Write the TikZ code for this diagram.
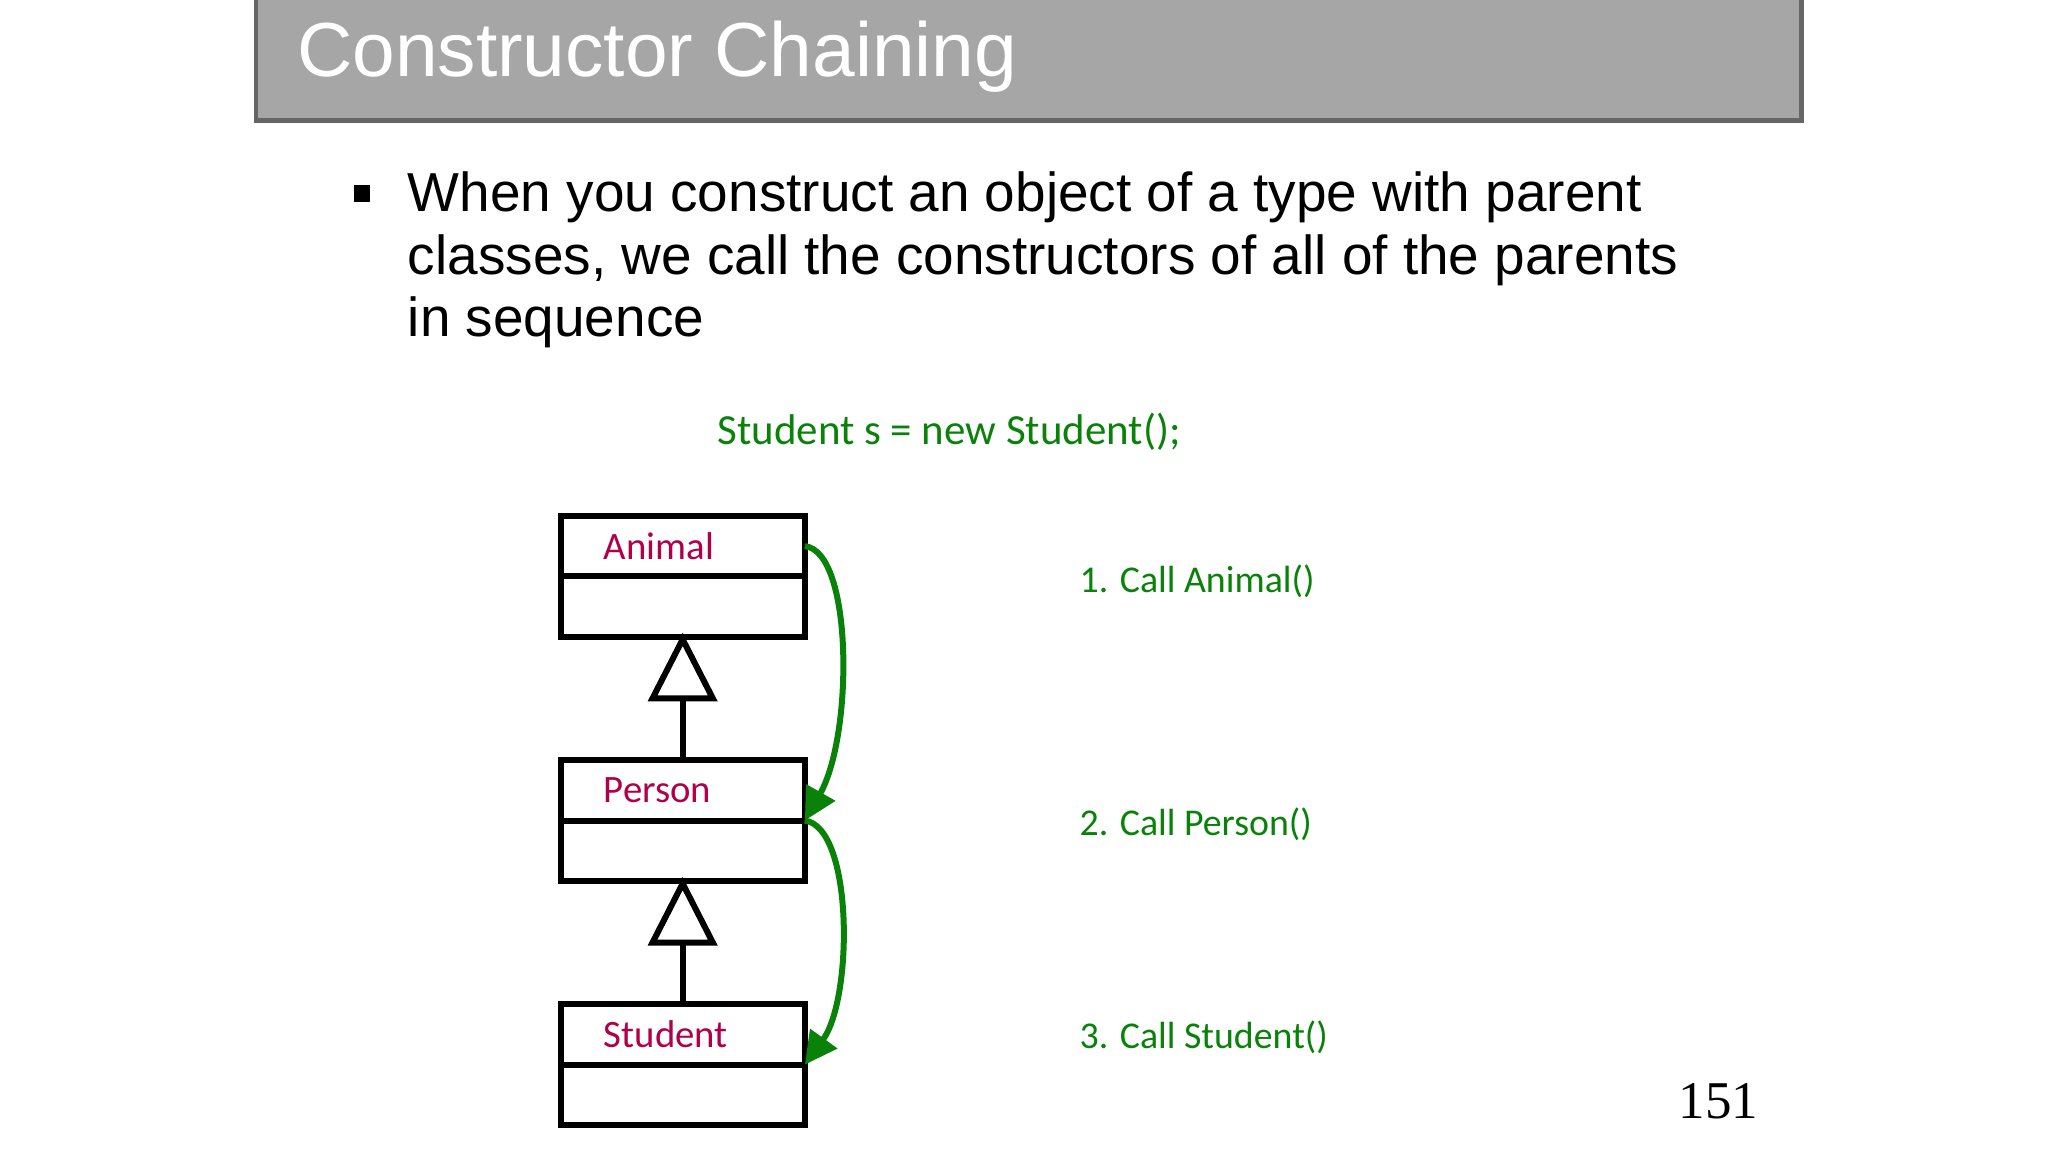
\documentclass[tikz,border=0pt]{standalone}
\usepackage{fontspec}
\setmainfont{Liberation Sans}
\newfontfamily\calfont{Carlito}
\newfontfamily\serfont{Liberation Serif}
\usetikzlibrary{positioning,arrows.meta}
\definecolor{titlegray}{HTML}{A6A6A6}
\definecolor{codegreen}{HTML}{0A820A}
\definecolor{classred}{HTML}{B0004A}
\tikzset{
  classhead/.style={draw, line width=1.3pt, minimum width=1.86cm, minimum height=0.46cm,
    inner sep=0pt, outer sep=0pt, font=\calfont\fontsize{8.4}{10}\selectfont, text=classred},
  classbody/.style={draw, line width=1.3pt, minimum width=1.86cm, minimum height=0.46cm, inner sep=0pt, outer sep=0pt},
  steplabel/.style={font=\calfont\fontsize{8.2}{10}\selectfont, text=codegreen, anchor=west},
  callarrow/.style={draw=codegreen, line width=1.3pt, -{Triangle[length=7pt,width=7pt]}},
}
\begin{document}
\begin{tikzpicture}[x=0.01cm,y=-0.01cm]
  \useasboundingbox (0,0) rectangle (1560,878);
  % title bar
  \fill[titlegray] (195,0) rectangle (1372,92);
  \draw[gray!80!black, line width=1pt] (195,0) -- (195,92) -- (1372,92) -- (1372,0);
  \node[anchor=west, text=white, font=\fontsize{16.6}{19}\selectfont] (title) at (214,43) {Constructor Chaining};
  % bullet
  \fill (270,141) rectangle (282,154);
  \node[anchor=north west, align=left, inner sep=0pt, font=\fontsize{11.9}{13.6}\selectfont] (bullet) at (310,130)
    {When you construct an object of a type with parent\\classes, we call the constructors of all of the parents\\in sequence};
  \node[font=\calfont\fontsize{9.3}{12}\selectfont, text=codegreen] (code) at (723,329) {Student s = new Student();};
  % classes
  \node[classhead, text width=1.2cm] (animal) at (520,416) {Animal};
  \node[classbody, below=0pt of animal] (animalbody) {};
  \node[classhead, text width=1.2cm] (person) at (520,602) {Person};
  \node[classbody, below=0pt of person] (personbody) {};
  \node[classhead, text width=1.2cm] (student) at (520,788) {Student};
  \node[classbody, below=0pt of student] (studentbody) {};
  % inheritance
  \draw[line width=1.3pt, fill=white] (animalbody.south) ++(0,2) -- ++(23,45) -- ++(-46,0) -- cycle;
  \draw[line width=1.3pt] (520,533) -- (person.north);
  \draw[line width=1.3pt, fill=white] (personbody.south) ++(0,2) -- ++(23,45) -- ++(-46,0) -- cycle;
  \draw[line width=1.3pt] (520,719) -- (student.north);
  % calls
  \draw[callarrow] (animal.east) .. controls (650,420) and (650,560) .. (person.south east);
  \draw[callarrow] (person.south east) .. controls (650,630) and (650,760) .. (student.south east);
  \node[steplabel] (step1) at (810,443) {1. Call Animal()};
  \node[steplabel] (step2) at (810,628) {2. Call Person()};
  \node[steplabel] (step3) at (810,790) {3. Call Student()};
  \node[font=\serfont\fontsize{11.5}{13}\selectfont] (page) at (1309,839) {151};
\end{tikzpicture}
\end{document}
